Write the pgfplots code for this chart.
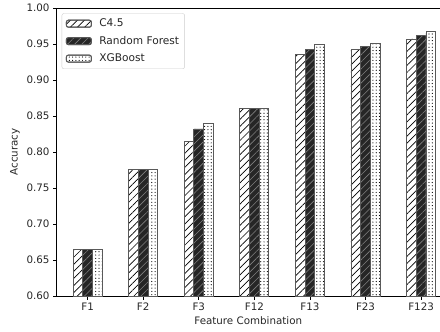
\documentclass[border=0pt]{standalone}
\usepackage{pgfplots}
\pgfplotsset{compat=1.18}
\usepackage{pgfplotstable}
\usetikzlibrary{patterns.meta}
\usepackage{fontspec}
\setmainfont{DejaVu Sans}
\pgfplotstableread{
x C45 RF XGB
0 0.665 0.665 0.665
1 0.776 0.776 0.776
2 0.815 0.832 0.839
3 0.860 0.860 0.861
4 0.936 0.942 0.949
5 0.942 0.947 0.951
6 0.957 0.962 0.967
}\datatable
\begin{document}
\begin{tikzpicture}
\begin{axis}[
  scale only axis, width=383.5pt, height=288pt,
  ybar=0pt, bar width=9.7pt,
  xmin=-0.56, xmax=6.34, ymin=0.6, ymax=1.0,
  xtick={0,1,2,3,4,5,6},
  xticklabels={F1,F2,F3,F12,F13,F23,F123},
  ytick={0.6,0.65,0.7,0.75,0.8,0.85,0.9,0.95,1.0},
  yticklabel style={/pgf/number format/.cd, fixed, fixed zerofill, precision=2},
  /pgf/number format/assume math mode=true,
  axis lines=left, axis line style={-, black, line width=0.8pt},
  tick align=outside, major tick length=3.5pt,
  tick style={black, line width=0.8pt},
  every tick label/.append style={font=\fontsize{10.3}{12}\selectfont, text=black!85},
  label style={font=\fontsize{10.3}{12}\selectfont, text=black!85},
  xlabel={Feature Combination}, ylabel={Accuracy},
  xlabel style={yshift=1pt},
  ylabel style={yshift=0pt},
  legend style={at={(0.0136,0.9816)}, anchor=north west, draw=black!20, rounded corners=2pt,
    fill=white, font=\fontsize{10.6}{12}\selectfont, text=black!85, row sep=5pt,
    column sep=6pt, inner xsep=4pt, inner ysep=4pt,
    nodes={inner sep=1.5pt}},
  legend cell align=left,
  legend image code/.code={\draw[#1] (0pt,-3.5pt) rectangle (25pt,3.5pt);},
  clip=false,
]
\addplot[draw=black!65, line width=0.9pt, fill=white,
  postaction={pattern={Lines[angle=45,distance=5pt,line width=0.7pt]}, pattern color=black}]
  table[x=x, y=C45] {\datatable};
\addlegendentry{C4.5}
\addplot[draw=black!65, line width=0.9pt, fill=black!85,
  postaction={pattern={Lines[angle=45,distance=5pt,line width=0.6pt]}, pattern color=black!50}]
  table[x=x, y=RF] {\datatable};
\addlegendentry{Random Forest}
\addplot[draw=black!65, line width=0.9pt, fill=white,
  postaction={pattern={Dots[distance=3.3pt,radius=0.6pt]}, pattern color=black}]
  table[x=x, y=XGB] {\datatable};
\addlegendentry{XGBoost}
\draw[black, line width=0.8pt] (rel axis cs:0,1) -- (rel axis cs:1,1);
\end{axis}
\pgfresetboundingbox
\path ([shift={(-56.5pt,-35pt)}]current axis.south west) rectangle ([shift={(0pt,8pt)}]current axis.north east);
\end{tikzpicture}
\end{document}
